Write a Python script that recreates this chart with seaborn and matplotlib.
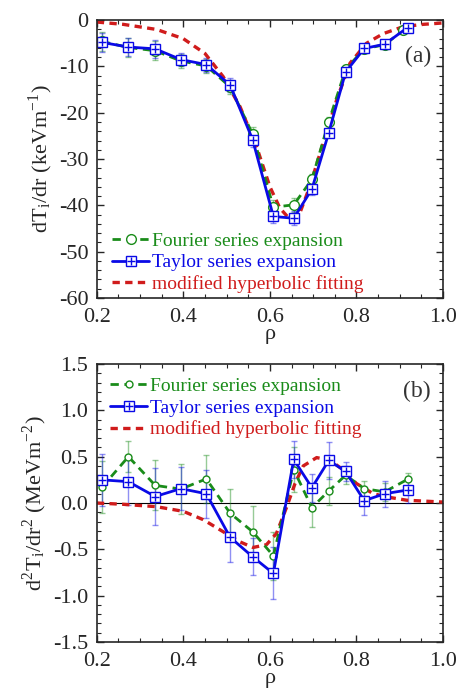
import numpy as np
import seaborn as sns
import matplotlib.pyplot as plt
from matplotlib.ticker import MultipleLocator
from matplotlib.legend_handler import HandlerTuple

# ---- panel (a): dTi/dr ----
rho_t = [0.212, 0.273, 0.335, 0.394, 0.453, 0.508, 0.560, 0.608, 0.655, 0.697, 0.736, 0.775, 0.818, 0.865, 0.918]
rho_f = [0.212, 0.273, 0.335, 0.394, 0.453, 0.508, 0.560, 0.608, 0.655, 0.697, 0.736, 0.775, 0.818, 0.865, 0.908]

taylor_a = [-4.8, -5.8, -6.2, -8.5, -9.6, -14.0, -25.8, -42.4, -42.8, -36.5, -24.3, -11.2, -6.1, -5.2, -1.6]
taylor_a_err = [2.0, 2.0, 2.0, 1.5, 1.5, 1.5, 1.5, 1.5, 1.5, 1.2, 1.0, 1.0, 0.8, 0.5, 0.5]
fourier_a = [-4.6, -5.9, -6.6, -8.8, -9.9, -14.4, -24.6, -40.4, -39.9, -34.4, -21.9, -10.6, -6.2, -5.3, -2.2]
fourier_a_err = [2.0, 2.0, 2.0, 1.5, 1.5, 1.5, 1.5, 1.5, 1.5, 1.2, 1.0, 1.0, 0.8, 0.5, 0.5]

rho_fit_a = [0.20, 0.261, 0.338, 0.40, 0.45, 0.492, 0.531, 0.569, 0.60, 0.623, 0.646, 0.669,
             0.692, 0.723, 0.754, 0.785, 0.823, 0.862, 0.908, 0.954, 1.0]
fit_a = [-0.4, -0.9, -2.0, -4.0, -7.2, -12.2, -18.7, -27.3, -36.0, -40.6, -43.0, -41.7,
         -36.0, -26.6, -17.3, -9.3, -5.0, -2.9, -1.4, -0.9, -0.6]

# ---- panel (b): d2Ti/dr2 ----
taylor_b = [0.25, 0.23, 0.07, 0.155, 0.10, -0.37, -0.58, -0.76, 0.47, 0.165, 0.46, 0.34, 0.025, 0.10, 0.14]
taylor_b_err = [0.28, 0.25, 0.31, 0.23, 0.26, 0.27, 0.20, 0.28, 0.20, 0.15, 0.20, 0.10, 0.15, 0.14, 0.14]
fourier_b = [0.17, 0.50, 0.19, 0.15, 0.26, -0.11, -0.31, -0.57, 0.36, -0.05, 0.13, 0.30, 0.155, 0.12, 0.255]
fourier_b_err = [0.28, 0.17, 0.27, 0.27, 0.26, 0.26, 0.28, 0.26, 0.24, 0.21, 0.15, 0.10, 0.08, 0.10, 0.07]
rho_fb = [0.212, 0.273, 0.335, 0.394, 0.453, 0.508, 0.560, 0.608, 0.655, 0.697, 0.736, 0.775, 0.818, 0.865, 0.918]

rho_fit_b = [0.20, 0.261, 0.338, 0.40, 0.446, 0.492, 0.531, 0.561, 0.592, 0.615, 0.639, 0.658,
             0.677, 0.708, 0.739, 0.769, 0.80, 0.839, 0.877, 0.916, 1.0]
fit_b = [0.0, -0.014, -0.04, -0.09, -0.18, -0.31, -0.42, -0.48, -0.45, -0.33, -0.04, 0.21,
         0.40, 0.49, 0.46, 0.36, 0.21, 0.10, 0.06, 0.03, 0.01]

GREEN = '#1a8c1a'
BLUE = '#0a0ae6'
RED = '#d01c1c'

sns.set_style('ticks')
plt.rcParams['font.family'] = ['Liberation Serif', 'DejaVu Serif']
plt.rcParams['mathtext.fontset'] = 'stix'
plt.rcParams['axes.unicode_minus'] = False

fig = plt.figure(figsize=(4.61, 6.96), dpi=100)
ax1 = fig.add_axes([0.210, 0.572, 0.751, 0.399])
ax2 = fig.add_axes([0.210, 0.0776, 0.751, 0.3994])


def draw(ax, rf, f, ferr, rt, t, terr, rfit, fit, ms):
    ax.errorbar(rf, f, yerr=ferr, fmt='none', ecolor=GREEN, alpha=0.45, elinewidth=1, capsize=2)
    ax.errorbar(rt, t, yerr=terr, fmt='none', ecolor=BLUE, alpha=0.45, elinewidth=1, capsize=2)
    sns.lineplot(x=rfit, y=fit, ax=ax, color=RED, lw=2.4, linestyle=(0, (2.2, 1.6)), sort=False)
    sns.lineplot(x=rf, y=f, ax=ax, color=GREEN, lw=2.0, linestyle=(0, (3, 2)), marker='o', ms=ms,
                 mfc='white', mec=GREEN, mew=1.0, sort=False)
    sns.lineplot(x=rt, y=t, ax=ax, color=BLUE, lw=2.0, marker='s', ms=7, mfc='white', mec=BLUE,
                 mew=1.0, sort=False)
    sns.scatterplot(x=rt, y=t, ax=ax, color=BLUE, marker='+', s=30, linewidth=1.0, zorder=5)
    h_f, = ax.plot([], [], color=GREEN, lw=2.0, linestyle=(0, (3, 2)), marker='o', ms=ms,
                   mfc='white', mec=GREEN, mew=1.0)
    h_t1, = ax.plot([], [], color=BLUE, lw=2.0, marker='s', ms=7, mfc='white', mec=BLUE, mew=1.0)
    h_t2, = ax.plot([], [], color=BLUE, lw=0, marker='+', ms=6, mew=1.0)
    h_r, = ax.plot([], [], color=RED, lw=2.4, linestyle=(0, (2.2, 1.6)))
    return [h_f, (h_t1, h_t2), h_r]


def style(ax):
    ax.set_xlim(0.2, 1.0)
    ax.xaxis.set_major_locator(MultipleLocator(0.2))
    ax.xaxis.set_minor_locator(MultipleLocator(0.05))
    ax.tick_params(which='both', direction='in', top=True, right=True, labelsize=16)
    ax.tick_params(axis='x', pad=7)
    ax.tick_params(axis='y', pad=6)
    ax.tick_params(which='major', length=5, width=1.0)
    ax.tick_params(which='minor', length=3, width=0.8)
    for s in ax.spines.values():
        s.set_linewidth(1.2)
        s.set_visible(True)
    ax.set_xlabel('\u03c1', fontsize=16, labelpad=-1)


labels = ['Fourier series expansion', 'Taylor series expansion', 'modified hyperbolic fitting']
leg_kw = dict(frameon=False, fontsize=14, handlelength=1.9, handletextpad=0.15, labelspacing=0.2,
              handler_map={tuple: HandlerTuple(ndivide=1)})

h = draw(ax1, rho_f, fourier_a, fourier_a_err, rho_t, taylor_a, taylor_a_err, rho_fit_a, fit_a, 7)
style(ax1)
ax1.set_ylim(-60, 0)
ax1.yaxis.set_major_locator(MultipleLocator(10))
ax1.yaxis.set_minor_locator(MultipleLocator(2))
ax1.set_ylabel(r'dT$_\mathregular{i}$/dr (keVm$^{\mathregular{-1}}$)', fontsize=16, labelpad=3)
ax1.text(0.965, 0.85, '(a)', transform=ax1.transAxes, ha='right', fontsize=17, color='#333333')
leg = ax1.legend(h, labels, loc='lower left', bbox_to_anchor=(0.017, -0.018), borderaxespad=0.1,
                 **leg_kw)
for txt, c in zip(leg.get_texts(), [GREEN, BLUE, RED]):
    txt.set_color(c)

ax2.axhline(0, color='black', lw=0.8, zorder=0)
h = draw(ax2, rho_fb, fourier_b, fourier_b_err, rho_t, taylor_b, taylor_b_err, rho_fit_b, fit_b, 5)
style(ax2)
ax2.set_ylim(-1.5, 1.5)
ax2.yaxis.set_major_locator(MultipleLocator(0.5))
ax2.yaxis.set_minor_locator(MultipleLocator(0.1))
ax2.set_ylabel(r'd$^\mathregular{2}$T$_\mathregular{i}$/dr$^\mathregular{2}$ (MeVm$^{\mathregular{-2}}$)',
               fontsize=16, labelpad=3)
ax2.text(0.965, 0.88, '(b)', transform=ax2.transAxes, ha='right', fontsize=17, color='#333333')
leg = ax2.legend(h, labels, loc='upper left', borderaxespad=0.3, **leg_kw)
for txt, c in zip(leg.get_texts(), [GREEN, BLUE, RED]):
    txt.set_color(c)

fig.savefig('out.png', dpi=100)
